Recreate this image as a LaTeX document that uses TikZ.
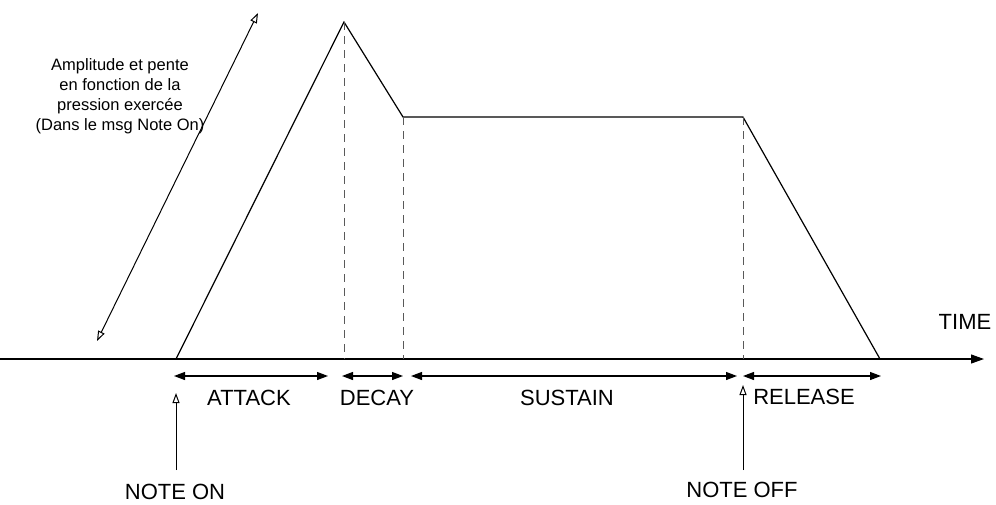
\documentclass[tikz,border=0pt]{standalone}
\usepackage{fontspec}
\setmainfont{Liberation Sans}
\usetikzlibrary{arrows.meta}
\begin{document}
\begin{tikzpicture}[x=1pt,y=-1pt,
  line/.style={line width=1.2pt,black},
  guide/.style={line width=1pt,gray!70!black,dash pattern=on 8pt off 6pt},
  span/.style={line width=1.2pt,{Triangle[length=11pt,width=8pt]}-{Triangle[length=11pt,width=8pt]}},
  marker/.style={line width=1pt,-{Triangle[open,length=10pt,width=7pt]}},
  lbl/.style={font=\fontsize{22}{24}\selectfont,inner sep=0pt},
  note/.style={font=\fontsize{16.5}{20}\selectfont,inner sep=0pt,align=center}]
\useasboundingbox (0,0) rectangle (996,504);
% axis
\coordinate (a0) at (0,359);
\coordinate (a1) at (984,359);
\draw[line,-{Triangle[length=13pt,width=9pt]}] (a0) -- (a1);
% envelope
\coordinate (e0) at (176,359);
\coordinate (e1) at (344,22);
\coordinate (e2) at (403,117);
\coordinate (e3) at (743,117);
\coordinate (e4) at (880,359);
\draw[line,line join=miter] (e0) -- (e1) -- (e2) -- (e3) -- (e4);
% guides
\coordinate (g1) at (344,359);
\coordinate (g2) at (403,359);
\coordinate (g3) at (743,359);
\draw[guide] (e1) -- (g1);
\draw[guide] (e2) -- (g2);
\draw[guide] (e3) -- (g3);
% spans
\coordinate (s0) at (174,376);
\coordinate (s1) at (328,376);
\coordinate (s2) at (342,376);
\coordinate (s3) at (403,376);
\coordinate (s4) at (411,376);
\coordinate (s5) at (737,376);
\coordinate (s6) at (743,376);
\coordinate (s7) at (881,376);
\draw[span] (s0) -- (s1);
\draw[span] (s2) -- (s3);
\draw[span] (s4) -- (s5);
\draw[span] (s6) -- (s7);
% labels
\node[lbl] (attack) at (249,398) {ATTACK};
\node[lbl] (decay) at (377,398) {DECAY};
\node[lbl] (sustain) at (567,398) {SUSTAIN};
\node[lbl] (release) at (804,397) {RELEASE};
\node[lbl] (time) at (965,322) {TIME};
\node[lbl] (noteon) at (175,492) {NOTE ON};
\node[lbl] (noteoff) at (742,490) {NOTE OFF};
% note markers
\coordinate (n0) at (176,393);
\coordinate (n1) at (743,385);
\coordinate (m0) at (176,470);
\coordinate (m1) at (743,470);
\draw[marker] (m0) -- (n0);
\draw[marker] (m1) -- (n1);
% diagonal
\coordinate (d0) at (97,341);
\coordinate (d1) at (258,13);
\draw[line width=1pt,{Triangle[open,length=10pt,width=7pt]}-{Triangle[open,length=10pt,width=7pt]}] (d0) -- (d1);
\node[note] (amp) at (120,96) {Amplitude et pente\\en fonction de la\\pression exercée\\(Dans le msg Note On)};
\end{tikzpicture}
\end{document}
